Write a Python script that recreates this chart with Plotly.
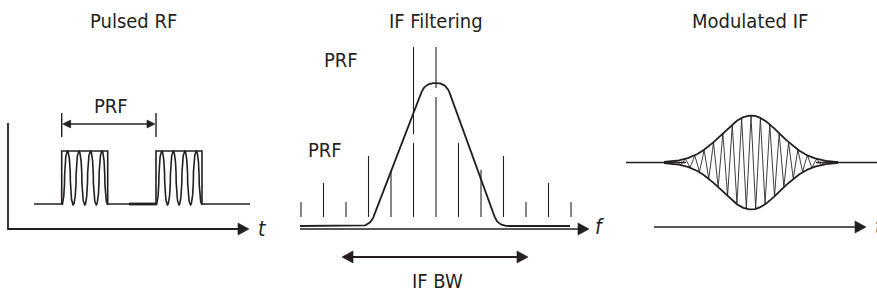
import numpy as np
import plotly.graph_objects as go

W, H = 877, 293
INK = "#231f20"
FONT = "DejaVu Sans Condensed, Liberation Sans Narrow, Roboto, sans-serif"

# ---------------- data ----------------
PANEL_TITLES = ["Pulsed RF", "IF Filtering", "Modulated IF"]
TITLE_X = [133, 436, 750]

# Panel 1: pulsed RF (time domain)
PULSE_STARTS = [61.7, 156.0]
PULSE_WIDTH = 46.0
CYCLES_PER_PULSE = 4

# Panel 2: line spectrum and IF filter
SPECTRAL_ORDERS = [-6, -5, -4, -3, -2, -1, 0, 1, 2, 3, 4, 5, 6]
SPECTRAL_HEIGHTS = [15, 34, 15, 61, 47, 74, 120, 74, 47, 61, 15, 34, 15]
LINE_SPACING = 22.5
FILTER_X = [300, 370, 425, 446, 498, 570]
FILTER_Y = [226, 226, 83, 83, 226, 226]

# Panel 3: modulated IF
ENV_CENTER = 751
ENV_AMPL = 47
ENV_SIGMA = 29
CARRIER_PERIOD = 9.4

fig = go.Figure()


def seg(xs, ys, w=1.7, color=INK):
    fig.add_trace(go.Scatter(x=list(xs), y=list(ys), mode="lines",
                             line=dict(color=color, width=w),
                             hoverinfo="skip", showlegend=False))


def head(x, y, direction, length=10, half=5.5):
    bx = x - direction * length
    fig.add_trace(go.Scatter(x=[x, bx, bx, x], y=[y, y - half, y + half, y],
                             mode="lines", fill="toself", fillcolor=INK,
                             line=dict(color=INK, width=0.6),
                             hoverinfo="skip", showlegend=False))


def rounded(px, py, r):
    xs, ys = [px[0]], [py[0]]
    for i in range(1, len(px) - 1):
        p0 = np.array([px[i - 1], py[i - 1]], float)
        p1 = np.array([px[i], py[i]], float)
        p2 = np.array([px[i + 1], py[i + 1]], float)
        d1 = (p0 - p1) / np.linalg.norm(p0 - p1)
        d2 = (p2 - p1) / np.linalg.norm(p2 - p1)
        a = p1 + d1 * r
        b = p1 + d2 * r
        t = np.linspace(0, 1, 20)
        for tt in t:
            q = (1 - tt) ** 2 * a + 2 * (1 - tt) * tt * p1 + tt ** 2 * b
            xs.append(q[0]); ys.append(q[1])
    xs.append(px[-1]); ys.append(py[-1])
    return xs, ys


def text(x, y, s, size=20, italic=False, xanchor="center"):
    fig.add_annotation(x=x, y=y, xref="x", yref="y", text=s, showarrow=False,
                       xanchor=xanchor, yanchor="middle",
                       font=dict(family=FONT, size=size, color=INK,
                                 style="italic" if italic else "normal"))


# ---------------- titles ----------------
for t, x in zip(PANEL_TITLES, TITLE_X):
    text(x, 21, t)

# ---------------- panel 1 ----------------
base_y, top_y = 204, 151
px = [34]
py = [base_y]
for s in PULSE_STARTS:
    px += [s, s, s + PULSE_WIDTH, s + PULSE_WIDTH]
    py += [base_y, top_y, top_y, base_y]
px.append(250); py.append(base_y)
seg(px, py, 1.6)
seg([129, PULSE_STARTS[1]], [base_y, base_y], 2.8)
mid, amp = (top_y + base_y + 1) / 2, (base_y + 1 - top_y) / 2
for s in PULSE_STARTS:
    xx = np.linspace(s, s + PULSE_WIDTH, 400)
    c = np.cos(2 * np.pi * CYCLES_PER_PULSE * (xx - s) / PULSE_WIDTH)
    c = np.sign(c) * np.abs(c) ** 0.5
    seg(xx, mid + amp * c, 1.6)
# axes
seg([8, 8, 239], [123, 229, 229], 1.8)
head(249, 229, 1, 11, 6)
text(262, 229, "t", 21, italic=True)
# PRF marker
for s in PULSE_STARTS:
    seg([s, s], [113, 137], 1.4)
seg([PULSE_STARTS[0] + 7, PULSE_STARTS[1] - 7], [124, 124], 1.4)
head(PULSE_STARTS[0] + 1, 124, -1, 8, 4)
head(PULSE_STARTS[1] - 1, 124, 1, 8, 4)
text(111, 106, "PRF")

# ---------------- panel 2 ----------------
center = 436
for k, h in zip(SPECTRAL_ORDERS, SPECTRAL_HEIGHTS):
    x = center + k * LINE_SPACING
    seg([x, x], [217, 217 - h], 1.1)
seg([center - LINE_SPACING, center - LINE_SPACING], [47, 134], 1.1)
seg([center, center], [47, 88], 1.1)
fx, fy = rounded(FILTER_X, FILTER_Y, 10)
seg(fx, fy, 1.8)
seg([300, 579], [229, 229], 1.6)
head(589, 229, 1, 11, 6)
text(600, 227, "f", 21, italic=True)
text(341, 60, "PRF")
text(325, 150, "PRF")
# IF BW arrow
seg([352, 518], [257, 257], 1.8)
head(342, 257, -1, 11, 6)
head(528, 257, 1, 11, 6)
text(437, 281, "IF BW")

# ---------------- panel 3 ----------------
seg([626, 686], [162.5, 162.5], 1.6)
seg([816, 877], [162.5, 162.5], 1.6)
xe = np.linspace(664, 838, 2000)
env = ENV_AMPL * np.exp(-((xe - ENV_CENTER) ** 2) / (2 * ENV_SIGMA ** 2))
tri = (2 / np.pi) * np.arcsin(np.cos(2 * np.pi * (xe - ENV_CENTER) / CARRIER_PERIOD))
seg(xe, 162.5 - env * tri, 0.9, "#2a2627")
seg(xe, 162.5 - env, 1.8)
seg(xe, 162.5 + env, 1.8)
seg([654, 855], [227, 227], 1.6)
head(866, 227, 1, 11, 6)
text(873, 227, "t", 21, italic=True, xanchor="left")

fig.update_layout(
    width=W, height=H, margin=dict(l=0, r=0, t=0, b=0),
    paper_bgcolor="white", plot_bgcolor="white",
    xaxis=dict(range=[0, W], visible=False, fixedrange=True),
    yaxis=dict(range=[H, 0], visible=False, fixedrange=True),
    showlegend=False,
)
fig.write_html("out.html", config={"displayModeBar": False},
               post_script="document.body.style.margin='0';document.body.style.overflow='hidden';")
